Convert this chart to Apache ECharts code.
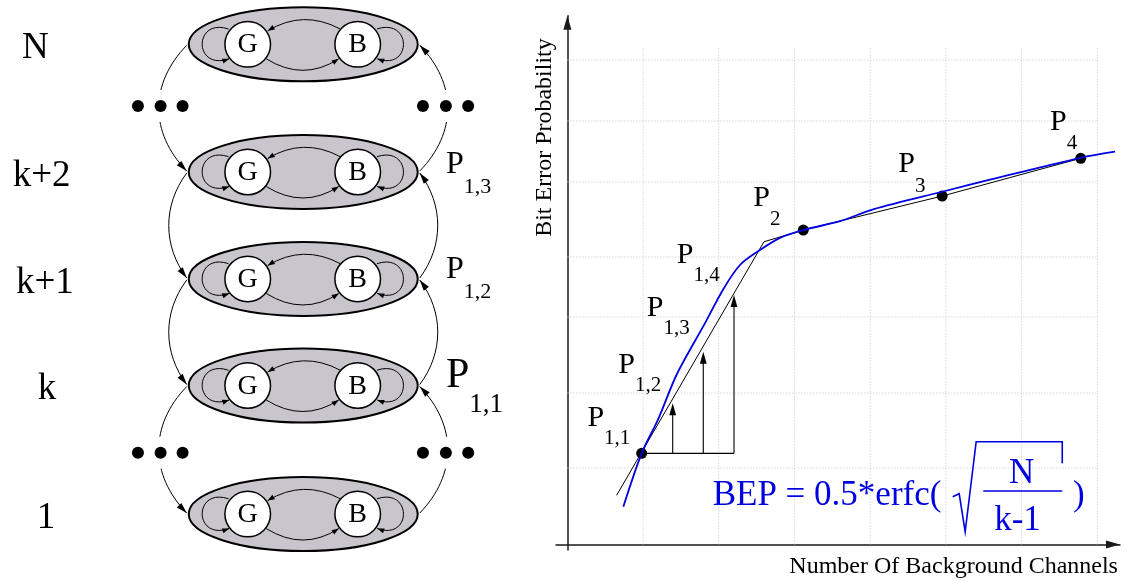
<!DOCTYPE html>
<html>
<head>
<meta charset="utf-8">
<script src="https://cdn.jsdelivr.net/npm/echarts@6/dist/echarts.min.js"></script>
<style>
html,body{margin:0;padding:0;background:#fff;}
#chart{width:1128px;height:581px;}
</style>
</head>
<body>
<div id="chart"></div>
<script>
// ---------- Left panel: stacked two-state (G/B) channel models ----------
const levelNames = ['N', 'k+2', 'k+1', 'k', '1'];
const levelY = [0, 1.196, 2.198, 3.196, 4.400];
const levelNameX = [-2.51, -2.45, -2.42, -2.40, -2.41];
const gapHasDots = [true, false, false, true];
const stateNames = ['G', 'B'];
const stateX = [-0.52, 0.51];
const ellipsisRowY = [0.578, 3.825];
const ellipsisDotX = [-1.548, -1.336, -1.130, 1.121, 1.336, 1.545];
const transSub = ['1,1', '1,2', '1,3'];
const transX = [1.336, 1.336, 1.336];
const transY = [3.106, 2.109, 1.123];

// ---------- Right panel: bit error probability vs background channels ----------
const xGridLines = [1, 2, 3, 4, 5, 6, 7];
const yGridLines = [1.012, 2.005, 3.011, 3.806, 4.799, 5.607, 6.415];
const gridTop = 6.58;
const bepX = [0.739, 0.981, 1.20, 1.444, 1.818, 2.059, 2.28, 2.501, 2.808, 3.116, 3.601, 4.05, 4.951, 5.582, 6.781, 7.234];
const bepY = [0.50, 1.206, 1.66, 2.25, 2.93, 3.38, 3.70, 3.87, 4.06, 4.163, 4.28, 4.44, 4.67, 4.83, 5.12, 5.20];
const approxX = [0.65, 2.597, 3.116, 4.951, 6.781];
const approxY = [0.65, 4.008, 4.163, 4.613, 5.113];
const pointX = [0.981, 3.116, 4.951, 6.781];
const pointY = [1.206, 4.163, 4.613, 5.113];
const stepX = [1.391, 1.795, 2.201];
const stepTopY = [1.868, 2.552, 3.302];
const curveLabelSub = ['1,1', '1,2', '1,3', '1,4', '2', '3', '4'];
const curveLabelX = [0.264, 0.672, 1.048, 1.444, 2.456, 4.371, 6.375];
const curveLabelY = [1.670, 2.376, 3.130, 3.825, 4.591, 5.037, 5.597];
const formulaText = 'BEP = 0.5*erfc(';
const formulaNum = 'N';
const formulaDen = 'k-1';
const formulaClose = ')';
const formulaAnchor = [1.919, 0.658];
const axisTitles = ['Number Of Background Channels', 'Bit Error Probability'];
const axisTitleX = [7.273, -0.302];
const axisTitleY = [-0.291, 5.388];

// ---------- drawing helpers ----------
const SERIF = '"Liberation Serif", "Times New Roman", serif';
const BLUE = '#0000e0';
const ELL_RX = 114.5, ELL_RY = 37, STATE_R = 22.8;
const pairs = (xs, ys) => xs.map((x, i) => [x, ys[i]]);

function arrowHead(tip, from, len, half, color) {
  const dx = tip[0] - from[0], dy = tip[1] - from[1];
  const d = Math.hypot(dx, dy) || 1;
  const ux = dx / d, uy = dy / d;
  const bx = tip[0] - ux * len, by = tip[1] - uy * len;
  return {type: 'polygon', shape: {points: [[tip[0], tip[1]], [bx - uy * half, by + ux * half], [bx + uy * half, by - ux * half]]},
          style: {fill: color || '#000', stroke: null}};
}
function bez(p0, c1, c2, p3, w, color) {
  const shape = {x1: p0[0], y1: p0[1], x2: p3[0], y2: p3[1], cpx1: c1[0], cpy1: c1[1]};
  if (c2) { shape.cpx2 = c2[0]; shape.cpy2 = c2[1]; }
  return {type: 'bezierCurve', shape: shape, style: {stroke: color || '#000', lineWidth: w || 1, fill: null}};
}
function pText(x, y, sub, fm, fs, off) {
  return {type: 'text', x: x, y: y, style: {
    text: '{m|P}{s|' + sub + '}', align: 'left', verticalAlign: 'middle',
    rich: {
      m: {fontFamily: SERIF, fontSize: fm, lineHeight: fm, fill: '#000', verticalAlign: 'middle'},
      s: {fontFamily: SERIF, fontSize: fs, lineHeight: fm, fill: '#000', verticalAlign: 'middle', padding: [2 * off, 0, 0, 0]}
    }}};
}

// inner transitions (relative to the level centre, px)
const TOP_ARC = {p0: [37, -15.3], c: [0, -35], p1: [-35.5, -13.5]};
const BOT_ARC = {p0: [-37, 14.5], c: [0, 37.5], p1: [35.5, 14.5]};
const LOOPS = [
  {p0: [-74.7, -15.3], c1: [-110, -27], c2: [-110, 27], p1: [-74, 14.5]},
  {p0: [73.7, -15.3], c1: [109, -27], c2: [109, 27], p1: [74, 14.5]}
];

function renderLevel(params, api) {
  const i = params.dataIndex;
  const c = api.coord([0, levelY[i]]);
  const ch = [];
  const rel = p => [c[0] + p[0], c[1] + p[1]];
  if (i < levelY.length - 1) {
    const n = api.coord([0, levelY[i + 1]]);
    const s = gapHasDots[i] ? 28 : 18;
    const b = s * 4 / 3;
    const a = (n[1] - c[1]) * 0.3;
    const L0 = [c[0] - ELL_RX - 2, c[1] + 1], L3 = [n[0] - ELL_RX - 2, n[1] - 1];
    const LC2 = [L3[0] - b, L3[1] - a];
    ch.push(bez(L0, [L0[0] - b, L0[1] + a], LC2, L3, 1));
    ch.push(arrowHead(L3, LC2, 11, 3.2));
    const R0 = [n[0] + ELL_RX + 2, n[1] - 1], R3 = [c[0] + ELL_RX + 2, c[1] + 1];
    const RC2 = [R3[0] + b, R3[1] + a];
    ch.push(bez(R0, [R0[0] + b, R0[1] - a], RC2, R3, 1));
    ch.push(arrowHead(R3, RC2, 11, 3.2));
  }
  ch.push({type: 'ellipse', shape: {cx: c[0], cy: c[1], rx: ELL_RX, ry: ELL_RY},
           style: {fill: '#c8c6cc', stroke: '#000', lineWidth: 2}});
  [TOP_ARC, BOT_ARC].forEach(q => {
    ch.push(bez(rel(q.p0), rel(q.c), null, rel(q.p1), 1));
    ch.push(arrowHead(rel(q.p1), rel(q.c), 7, 2.6));
  });
  LOOPS.forEach(q => {
    ch.push(bez(rel(q.p0), rel(q.c1), rel(q.c2), rel(q.p1), 1));
    ch.push(arrowHead(rel(q.p1), rel(q.c2), 7, 2.6));
  });
  stateNames.forEach((name, j) => {
    const p = api.coord([stateX[j], levelY[i]]);
    ch.push({type: 'circle', shape: {cx: p[0], cy: p[1], r: STATE_R}, style: {fill: '#fff', stroke: '#000', lineWidth: 1.5}});
    ch.push({type: 'text', x: p[0], y: p[1] + 0.8, style: {text: name, fontFamily: SERIF, fontSize: 28, fill: '#000', align: 'center', verticalAlign: 'middle'}});
  });
  const lp = api.coord([levelNameX[i], levelY[i]]);
  ch.push({type: 'text', x: lp[0], y: lp[1] + 4, style: {text: levelNames[i], fontFamily: SERIF, fontSize: 37, fill: '#000', align: 'center', verticalAlign: 'middle'}});
  return {type: 'group', children: ch};
}

function renderDots(params, api) {
  const y = ellipsisRowY[params.dataIndex];
  const ch = [];
  [-1.336, 1.336].forEach(x => {
    const p = api.coord([x, y]);
    ch.push({type: 'rect', shape: {x: p[0] - 8, y: p[1] - 16, width: 16, height: 32}, style: {fill: '#fff', stroke: null}});
  });
  ellipsisDotX.forEach(x => {
    const p = api.coord([x, y]);
    ch.push({type: 'circle', shape: {cx: p[0], cy: p[1], r: 6}, style: {fill: '#000'}});
  });
  return {type: 'group', children: ch};
}

function renderTransLabel(params, api) {
  const i = params.dataIndex;
  const p = api.coord([transX[i], transY[i]]);
  return i === 0 ? pText(p[0], p[1], transSub[i], 42, 27, 29) : pText(p[0], p[1], transSub[i], 32, 22, 23);
}

function renderVGrid(params, api) {
  const x = xGridLines[params.dataIndex];
  const a = api.coord([x, 0]), b = api.coord([x, gridTop]);
  return {type: 'line', shape: {x1: a[0], y1: a[1], x2: b[0], y2: b[1]}, style: {stroke: '#c4c4c4', lineWidth: 1, lineDash: [1, 2]}};
}
function renderHGrid(params, api) {
  const y = yGridLines[params.dataIndex];
  const a = api.coord([0, y]), b = api.coord([xGridLines[xGridLines.length - 1], y]);
  return {type: 'line', shape: {x1: a[0], y1: a[1], x2: b[0], y2: b[1]}, style: {stroke: '#c4c4c4', lineWidth: 1, lineDash: [1, 2]}};
}

function renderSteps(params, api) {
  const base = api.coord([pointX[0], pointY[0]]);
  const end = api.coord([stepX[stepX.length - 1], pointY[0]]);
  const ch = [{type: 'line', shape: {x1: base[0], y1: base[1], x2: end[0], y2: end[1]}, style: {stroke: '#000', lineWidth: 1.1}}];
  stepX.forEach((x, j) => {
    const b = api.coord([x, pointY[0]]), t = api.coord([x, stepTopY[j]]);
    ch.push({type: 'line', shape: {x1: b[0], y1: b[1], x2: t[0], y2: t[1] + 4}, style: {stroke: '#000', lineWidth: 1.1}});
    ch.push(arrowHead(t, b, 12, 3.4));
  });
  return {type: 'group', children: ch};
}

function renderCurveLabel(params, api) {
  const i = params.dataIndex;
  const p = api.coord([curveLabelX[i], curveLabelY[i]]);
  const sub = curveLabelSub[i];
  return pText(p[0], p[1], sub, 30, 21, sub.length > 1 ? 20 : 22);
}

function renderFormula(params, api) {
  const a = api.coord(formulaAnchor);
  const X = a[0], Y = a[1];
  const t = (txt, dx, dy, align) => ({type: 'text', x: X + dx, y: Y + dy,
    style: {text: txt, fontFamily: SERIF, fontSize: 35, fill: BLUE, align: align, verticalAlign: 'middle'}});
  return {type: 'group', children: [
    t(formulaText, 0, 1, 'left'),
    {type: 'polyline', shape: {points: [[X + 240, Y + 2], [X + 246.5, Y - 1], [X + 252.5, Y + 37], [X + 263.5, Y - 53], [X + 349.6, Y - 53], [X + 349.6, Y - 31.5]]},
     style: {stroke: BLUE, lineWidth: 1.6, fill: null}},
    {type: 'line', shape: {x1: X + 270.6, y1: Y - 3.7, x2: X + 349.6, y2: Y - 3.7}, style: {stroke: BLUE, lineWidth: 1.6}},
    t(formulaNum, 309, -20.5, 'center'),
    t(formulaDen, 304.8, 26.3, 'center'),
    t(formulaClose, 360.3, 1, 'left')
  ]};
}

function renderAxisTitle(params, api) {
  const i = params.dataIndex;
  const p = api.coord([axisTitleX[i], axisTitleY[i]]);
  return {type: 'text', x: p[0], y: p[1], rotation: i === 1 ? Math.PI / 2 : 0,
    style: {text: axisTitles[i], fontFamily: SERIF, fontSize: 24, fill: '#000', align: i === 1 ? 'center' : 'right', verticalAlign: 'middle'}};
}

const axisLineStyle = {show: true, onZero: true, symbol: ['none', 'triangle'], symbolSize: [8, 14], symbolOffset: [0, -7], lineStyle: {color: '#1a1a1a', width: 1.5}};
const hiddenParts = {axisTick: {show: false}, axisLabel: {show: false}, splitLine: {show: false}};

const chart = echarts.init(document.getElementById('chart'), null, {renderer: 'canvas'});
chart.setOption({
  animation: false,
  backgroundColor: '#fff',
  grid: [
    {left: 0, top: 0, width: 520, height: 581},
    {left: 556, top: 15.8, width: 564, height: 534.2}
  ],
  xAxis: [
    {gridIndex: 0, type: 'value', min: -2.84, max: 2.03, show: false},
    Object.assign({gridIndex: 1, type: 'value', min: -0.1506, max: 7.30, axisLine: axisLineStyle}, hiddenParts)
  ],
  yAxis: [
    {gridIndex: 0, type: 'value', inverse: true, min: -0.415, max: 5.027, show: false},
    Object.assign({gridIndex: 1, type: 'value', min: -0.074, max: 7.0, axisLine: axisLineStyle}, hiddenParts)
  ],
  series: [
    {type: 'custom', name: 'levels', xAxisIndex: 0, yAxisIndex: 0, silent: true, data: levelY.map(y => [0, y]), renderItem: renderLevel},
    {type: 'custom', name: 'ellipsis', xAxisIndex: 0, yAxisIndex: 0, silent: true, data: ellipsisRowY.map(y => [0, y]), renderItem: renderDots},
    {type: 'custom', name: 'transitions', xAxisIndex: 0, yAxisIndex: 0, silent: true, data: pairs(transX, transY), renderItem: renderTransLabel},
    {type: 'custom', name: 'vgrid', xAxisIndex: 1, yAxisIndex: 1, silent: true, data: xGridLines.map(x => [x, 0]), renderItem: renderVGrid},
    {type: 'custom', name: 'hgrid', xAxisIndex: 1, yAxisIndex: 1, silent: true, data: yGridLines.map(y => [0, y]), renderItem: renderHGrid},
    {type: 'line', name: 'approx', xAxisIndex: 1, yAxisIndex: 1, silent: true, data: pairs(approxX, approxY), symbol: 'none',
     lineStyle: {color: '#000', width: 1}},
    {type: 'line', name: 'BEP', xAxisIndex: 1, yAxisIndex: 1, silent: true, data: pairs(bepX, bepY), symbol: 'none', smooth: 0.3,
     lineStyle: {color: BLUE, width: 1.8}},
    {type: 'custom', name: 'steps', xAxisIndex: 1, yAxisIndex: 1, silent: true, data: [[pointX[0], pointY[0]]], renderItem: renderSteps},
    {type: 'scatter', name: 'points', xAxisIndex: 1, yAxisIndex: 1, silent: true, data: pairs(pointX, pointY), symbolSize: 11,
     itemStyle: {color: '#000', opacity: 1}},
    {type: 'custom', name: 'labels', xAxisIndex: 1, yAxisIndex: 1, silent: true, data: pairs(curveLabelX, curveLabelY), renderItem: renderCurveLabel},
    {type: 'custom', name: 'formula', xAxisIndex: 1, yAxisIndex: 1, silent: true, data: [formulaAnchor], renderItem: renderFormula},
    {type: 'custom', name: 'axisTitles', xAxisIndex: 1, yAxisIndex: 1, silent: true, data: pairs(axisTitleX, axisTitleY), renderItem: renderAxisTitle}
  ]
});
</script>
</body>
</html>
